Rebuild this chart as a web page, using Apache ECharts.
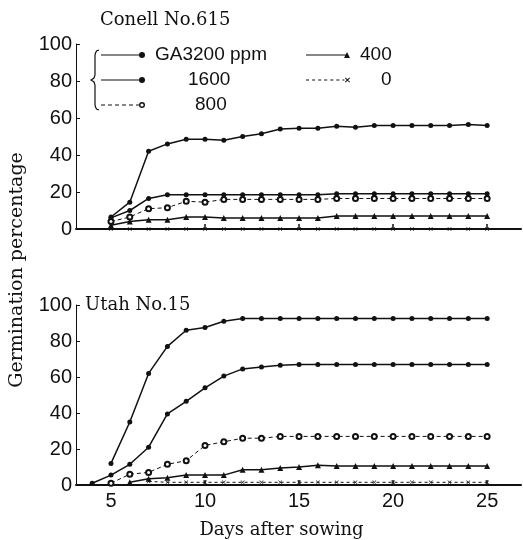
<!DOCTYPE html>
<html>
<head>
  <meta charset="utf-8">
</head>
<body style="margin: 0; background: #fff">
  <div id="container" style="width: 523px; height: 540px"></div>

  <script type="text/javascript" src="https://fastly.jsdelivr.net/npm/echarts@6/dist/echarts.min.js"></script>
  <script type="text/javascript">
// Conell No.615 (days 5..25)
var daysTop = [5, 6, 7, 8, 9, 10, 11, 12, 13, 14, 15, 16, 17, 18, 19, 20, 21, 22, 23, 24, 25];
var conell3200 = [6.5, 14.5, 42, 46, 48.5, 48.5, 48, 50, 51.5, 54, 54.5, 54.5, 55.5, 55, 56, 56, 56, 56, 56, 56.5, 56];
var conell1600 = [6, 10, 16.5, 18.5, 18.5, 18.5, 18.5, 18.5, 18.5, 18.5, 18.5, 18.5, 19, 19, 19, 19, 19, 19, 19, 19, 19];
var conell800 = [4, 6.5, 11, 11.5, 15, 14.5, 16, 16, 16, 16, 16, 16, 16.5, 16.5, 16.5, 16.5, 16.5, 16.5, 16.5, 16.5, 16.5];
var conell400 = [2, 4, 5, 5, 6.5, 6.5, 6, 6, 6, 6, 6, 6, 7, 7, 7, 7, 7, 7, 7, 7, 7];
var conell0 = [0, 0, 0, 0, 0, 0, 0, 0, 0, 0, 0, 0, 0, 0, 0, 0, 0, 0, 0, 0, 0];

// Utah No.15 (days 4..25)
var daysBottom = [4, 5, 6, 7, 8, 9, 10, 11, 12, 13, 14, 15, 16, 17, 18, 19, 20, 21, 22, 23, 24, 25];
var utah3200 = [null, 12, 35, 62, 77, 86, 87.5, 91, 92.5, 92.5, 92.5, 92.5, 92.5, 92.5, 92.5, 92.5, 92.5, 92.5, 92.5, 92.5, 92.5, 92.5];
var utah1600 = [1, 5.5, 11.5, 21, 39.5, 46.5, 54, 60.5, 64.5, 65.5, 66.5, 67, 67, 67, 67, 67, 67, 67, 67, 67, 67, 67];
var utah800 = [null, 1, 6, 7, 11.5, 13.5, 22, 24, 26, 26, 27, 27, 27, 27, 27, 27, 27, 27, 27, 27, 27, 27];
var utah400 = [null, null, 1.5, 3.5, 4, 5.5, 5.5, 5.5, 8.5, 8.5, 9.5, 10, 11, 10.5, 10.5, 10.5, 10.5, 10.5, 10.5, 10.5, 10.5, 10.5];
var utah0 = [null, null, null, 2, 1.5, 1.5, 1.5, 1.5, 1.5, 1.5, 1.5, 1.5, 1.5, 1.5, 1.5, 1.5, 1.5, 1.5, 1.5, 1.5, 1.5, 1.5];

var xTicks = [5, 10, 15, 20, 25];
var seriesNames = ['GA3200 ppm', '1600', '800', '400', '0'];

var ink = '#111';
var numFont = 'Liberation Sans';
var serifFont = 'DejaVu Serif';

function pairs(days, vals) {
  var out = [];
  for (var i = 0; i < days.length; i++) {
    if (vals[i] !== null) out.push([days[i], vals[i]]);
  }
  return out;
}

// legend icons: line with the marker at its right end
var iconSolidDot = 'path://M0,2.4H40V3.6H0Z M44,3A3,3 0 1 1 38,3A3,3 0 1 1 44,3Z';
var iconDashRing = 'path://M0,2.6h4v0.8h-4Z M7,2.6h4v0.8h-4Z M14,2.6h4v0.8h-4Z M21,2.6h4v0.8h-4Z M28,2.6h4v0.8h-4Z M35,2.6h3v0.8h-3Z M44,3A3,3 0 1 1 38,3A3,3 0 1 1 44,3Z M42.6,3A1.6,1.6 0 1 0 39.4,3A1.6,1.6 0 1 0 42.6,3Z';
var iconSolidTri = 'path://M0,2.4H40V3.6H0Z M41,0L44,6H38Z';
var iconDashX = 'path://M0,2.6h3v0.8h-3Z M6,2.6h3v0.8h-3Z M12,2.6h3v0.8h-3Z M18,2.6h3v0.8h-3Z M24,2.6h3v0.8h-3Z M30,2.6h3v0.8h-3Z M36,2.6h2v0.8h-2Z M38.5,1.3L39.2,0.6L43.5,4.7L42.8,5.4Z M42.8,0.6L43.5,1.3L39.2,5.4L38.5,4.7Z';
var markX = 'path://M0,1L1,0L10,9L9,10Z M9,0L10,1L1,10L0,9Z';

var xMin = 3.14, xMax = 26.8;

function xAxisFor(gridIndex, showLabels) {
  return {
    type: 'value', gridIndex: gridIndex, min: xMin, max: xMax,
    axisLine: { show: true, onZero: false, lineStyle: { color: ink, width: 2 } },
    axisTick: { show: true, inside: true, length: 5, customValues: xTicks, lineStyle: { color: ink, width: 1.5 } },
    axisLabel: { show: showLabels, customValues: xTicks, color: ink, fontFamily: numFont, fontSize: 20, margin: 6 },
    splitLine: { show: false },
    name: showLabels ? 'Days after sowing' : '',
    nameLocation: 'middle', nameGap: 36,
    nameTextStyle: { color: ink, fontFamily: serifFont, fontSize: 18, padding: [0, 34, 0, 0] }
  };
}

function yAxisFor(gridIndex) {
  return {
    type: 'value', gridIndex: gridIndex, min: 0, max: 100, interval: 20,
    axisLine: { show: true, lineStyle: { color: ink, width: 1 } },
    axisTick: { show: true, inside: true, length: 4, lineStyle: { color: ink } },
    axisLabel: { color: ink, fontFamily: numFont, fontSize: 20, margin: 4 },
    splitLine: { show: false }
  };
}

var styles = {
  'GA3200 ppm': { symbol: 'circle', symbolSize: 5, line: { width: 1.5, type: 'solid' } },
  '1600': { symbol: 'circle', symbolSize: 5, line: { width: 1.5, type: 'solid' } },
  '800': { symbol: 'emptyCircle', symbolSize: 5, line: { width: 1, type: [4, 3] } },
  '400': { symbol: 'triangle', symbolSize: 6, line: { width: 1.5, type: 'solid' } },
  '0': { symbol: markX, symbolSize: 4, line: { width: 1, type: [3, 3] } }
};

function makeSeries(name, idx, data) {
  var s = styles[name];
  return {
    name: name, type: 'line', xAxisIndex: idx, yAxisIndex: idx,
    data: data, symbol: s.symbol, symbolSize: s.symbolSize, showSymbol: true,
    itemStyle: { color: ink, borderColor: ink, borderWidth: s.symbol === 'emptyCircle' ? 1.2 : 0 },
    lineStyle: { color: ink, width: s.line.width, type: s.line.type },
    z: name === '0' ? 1 : 3
  };
}

var topData = [conell3200, conell1600, conell800, conell400, conell0];
var bottomData = [utah3200, utah1600, utah800, utah400, utah0];
var series = [];
seriesNames.forEach(function (n, i) { series.push(makeSeries(n, 0, pairs(daysTop, topData[i]))); });
seriesNames.forEach(function (n, i) { series.push(makeSeries(n, 1, pairs(daysBottom, bottomData[i]))); });

var legendText = {
  color: ink, fontFamily: numFont, fontSize: 19, lineHeight: 20,
  rich: {
    g: { fontFamily: numFont, fontSize: 19, padding: [0, 0, 0, 5] },
    a: { fontFamily: numFont, fontSize: 19, padding: [0, 0, 0, 38] },
    b: { fontFamily: numFont, fontSize: 19, padding: [0, 0, 0, 45] },
    c: { fontFamily: numFont, fontSize: 19, padding: [0, 0, 0, 5] },
    d: { fontFamily: numFont, fontSize: 19, padding: [0, 0, 0, 26] }
  }
};
var legendTag = { 'GA3200 ppm': 'g', '1600': 'a', '800': 'b', '400': 'c', '0': 'd' };

var dom = document.getElementById('container');
var myChart = echarts.init(dom, null, { renderer: 'canvas' });

var option = {
  animation: false,
  backgroundColor: '#fff',
  title: [
    { text: 'Conell No.615', left: 100, top: 11, padding: 0,
      textStyle: { color: ink, fontFamily: serifFont, fontSize: 18, fontWeight: 'normal' } },
    { text: 'Utah No.15', left: 85, top: 296, padding: 0,
      textStyle: { color: ink, fontFamily: serifFont, fontSize: 18, fontWeight: 'normal' } }
  ],
  legend: [
    {
      orient: 'vertical', left: 101, top: 45, padding: 0,
      itemWidth: 44, itemHeight: 6, itemGap: 5, selectedMode: false,
      itemStyle: { borderWidth: 0 },
      data: [
        { name: 'GA3200 ppm', icon: iconSolidDot },
        { name: '1600', icon: iconSolidDot },
        { name: '800', icon: iconDashRing }
      ],
      formatter: function (name) { return '{' + legendTag[name] + '|' + name + '}'; },
      textStyle: legendText
    },
    {
      orient: 'vertical', left: 306, top: 45, padding: 0,
      itemWidth: 44, itemHeight: 6, itemGap: 5, selectedMode: false,
      itemStyle: { borderWidth: 0 },
      data: [
        { name: '400', icon: iconSolidTri },
        { name: '0', icon: iconDashX }
      ],
      formatter: function (name) { return '{' + legendTag[name] + '|' + name + '}'; },
      textStyle: legendText
    }
  ],
  grid: [
    { left: 76, right: 2, top: 44, height: 185 },
    { left: 76, right: 2, top: 305, height: 182 }
  ],
  xAxis: [xAxisFor(0, false), xAxisFor(1, true)],
  yAxis: [yAxisFor(0), yAxisFor(1)],
  graphic: [
    { type: 'text', left: 8, top: 'middle', rotation: Math.PI / 2,
      style: { text: 'Germination percentage', fill: ink, font: '19px "DejaVu Serif"' } },
    // the brace that groups the first legend column
    { type: 'polyline', silent: true,
      shape: { points: [[99, 50], [96.5, 51], [95.3, 53.5], [95, 56], [95, 75], [94, 78], [91, 80],
                        [94, 82], [95, 85], [95, 104], [95.3, 106.5], [96.5, 109], [99, 110]] },
      style: { fill: null, stroke: ink, lineWidth: 1.2 } }
  ],
  series: series
};

myChart.setOption(option);
window.addEventListener('resize', myChart.resize);
  </script>
</body>
</html>
